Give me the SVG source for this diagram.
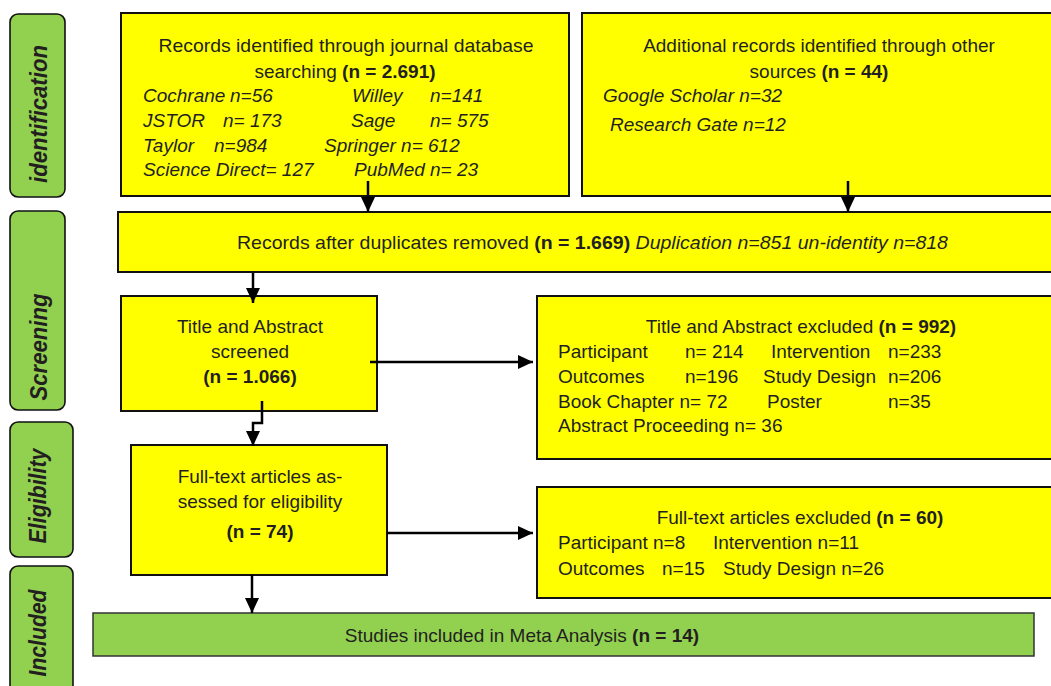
<svg xmlns="http://www.w3.org/2000/svg" width="1051" height="686" viewBox="0 0 1051 686">
<style>
text{font-family:"Liberation Sans",Arial,sans-serif;fill:#231f20;font-size:19px}
.b{font-weight:bold}
.i{font-style:italic}
.c{text-anchor:middle}
.side{fill:#92d050;stroke:#111;stroke-width:1.6}
.side text{font-weight:bold;font-style:italic;font-size:23px;text-anchor:middle;stroke:none}
.yb{fill:#ffff00;stroke:#111;stroke-width:2}
.gb{fill:#92d050;stroke:#333;stroke-width:1.5}
.conn path{fill:none;stroke:#000;stroke-width:2.5}
</style>
<defs>
<marker id="ah" markerUnits="userSpaceOnUse" markerWidth="16" markerHeight="16" refX="15" refY="7" orient="auto">
<path d="M0,0 L15,7 L0,14 Z" fill="#000"/>
</marker>
</defs>

<g id="side-identification" class="side"><rect x="10" y="14" width="55" height="183" rx="8"/><text transform="translate(47,114) rotate(-90)" textLength="138" lengthAdjust="spacingAndGlyphs">identification</text></g>
<g id="side-screening" class="side"><rect x="10" y="211" width="55" height="199" rx="8"/><text transform="translate(47,347) rotate(-90)" textLength="107" lengthAdjust="spacingAndGlyphs">Screening</text></g>
<g id="side-eligibility" class="side"><rect x="10" y="422" width="63" height="135" rx="8"/><text transform="translate(46,496) rotate(-90)" textLength="95" lengthAdjust="spacingAndGlyphs">Eligibility</text></g>
<g id="side-included" class="side"><rect x="10" y="566" width="63" height="135" rx="8"/><text transform="translate(46,633) rotate(-90)" textLength="87" lengthAdjust="spacingAndGlyphs">Included</text></g>

<g id="box-database">
<rect class="yb" x="121" y="13" width="448" height="183"/>
<text class="c" x="346" y="52" textLength="375" lengthAdjust="spacingAndGlyphs">Records identified through journal database</text>
<text class="c" x="345" y="78">searching <tspan class="b">(n = 2.691)</tspan></text>
<g class="i">
<text x="143" y="102">Cochrane</text><text x="230" y="102">n=56</text><text x="352" y="102">Willey</text><text x="430" y="102">n=141</text>
<text x="143" y="127">JSTOR</text><text x="223" y="127">n= 173</text><text x="351" y="127">Sage</text><text x="430" y="127">n= 575</text>
<text x="143" y="152">Taylor</text><text x="214" y="152">n=984</text><text x="324" y="152">Springer n= 612</text>
<text x="143" y="176">Science Direct= 127</text><text x="354" y="176">PubMed n= 23</text>
</g>
</g>

<g id="box-other">
<rect class="yb" x="582" y="13" width="480" height="183"/>
<text class="c" x="819" y="52">Additional records identified through other</text>
<text class="c" x="819" y="78">sources <tspan class="b">(n = 44)</tspan></text>
<text class="i" x="603" y="102">Google Scholar n=32</text>
<text class="i" x="610" y="131">Research Gate n=12</text>
</g>

<g id="box-duplicates">
<rect class="yb" x="118" y="212" width="944" height="60"/>
<text x="237" y="249" textLength="711" lengthAdjust="spacingAndGlyphs">Records after duplicates removed <tspan class="b">(n = 1.669)</tspan> <tspan class="i">Duplication n=851 un-identity n=818</tspan></text>
</g>

<g id="box-screened">
<rect class="yb" x="121" y="296" width="256" height="115"/>
<text class="c" x="250" y="333">Title and Abstract</text>
<text class="c" x="250" y="358">screened</text>
<text class="c b" x="250" y="383">(n = 1.066)</text>
</g>

<g id="box-excluded1">
<rect class="yb" x="537" y="296" width="525" height="163"/>
<text class="c" x="801" y="333">Title and Abstract excluded <tspan class="b">(n = 992)</tspan></text>
<text x="558" y="358">Participant</text><text x="685" y="358">n= 214</text><text x="771" y="358">Intervention</text><text x="888" y="358">n=233</text>
<text x="558" y="383">Outcomes</text><text x="685" y="383">n=196</text><text x="763" y="383">Study Design</text><text x="888" y="383">n=206</text>
<text x="558" y="408">Book Chapter n= 72</text><text x="767" y="408">Poster</text><text x="888" y="408">n=35</text>
<text x="558" y="432">Abstract Proceeding n= 36</text>
</g>

<g id="box-fulltext">
<rect class="yb" x="131" y="445" width="256" height="130"/>
<text class="c" x="260" y="483">Full-text articles as-</text>
<text class="c" x="260" y="508">sessed for eligibility</text>
<text class="c b" x="260" y="538">(n = 74)</text>
</g>

<g id="box-excluded2">
<rect class="yb" x="537" y="487" width="525" height="111"/>
<text class="c" x="800" y="524">Full-text articles excluded <tspan class="b">(n = 60)</tspan></text>
<text x="558" y="549">Participant n=8</text><text x="713" y="549">Intervention n=11</text>
<text x="558" y="575">Outcomes</text><text x="662" y="575">n=15</text><text x="723" y="575">Study Design n=26</text>
</g>

<g id="box-included">
<rect class="gb" x="93" y="613" width="941" height="43"/>
<text class="c" x="522" y="642">Studies included in Meta Analysis <tspan class="b">(n = 14)</tspan></text>
</g>

<g id="connectors" class="conn">
<path d="M368,181 V212" marker-end="url(#ah)"/>
<path d="M848,181 V212" marker-end="url(#ah)"/>
<path d="M253,273 V303" marker-end="url(#ah)"/>
<path d="M370,362 H533" marker-end="url(#ah)"/>
<path d="M262,401 V423 H253 V446" marker-end="url(#ah)"/>
<path d="M387,533 H533" marker-end="url(#ah)"/>
<path d="M252,575 V613" marker-end="url(#ah)"/>
</g>
</svg>
